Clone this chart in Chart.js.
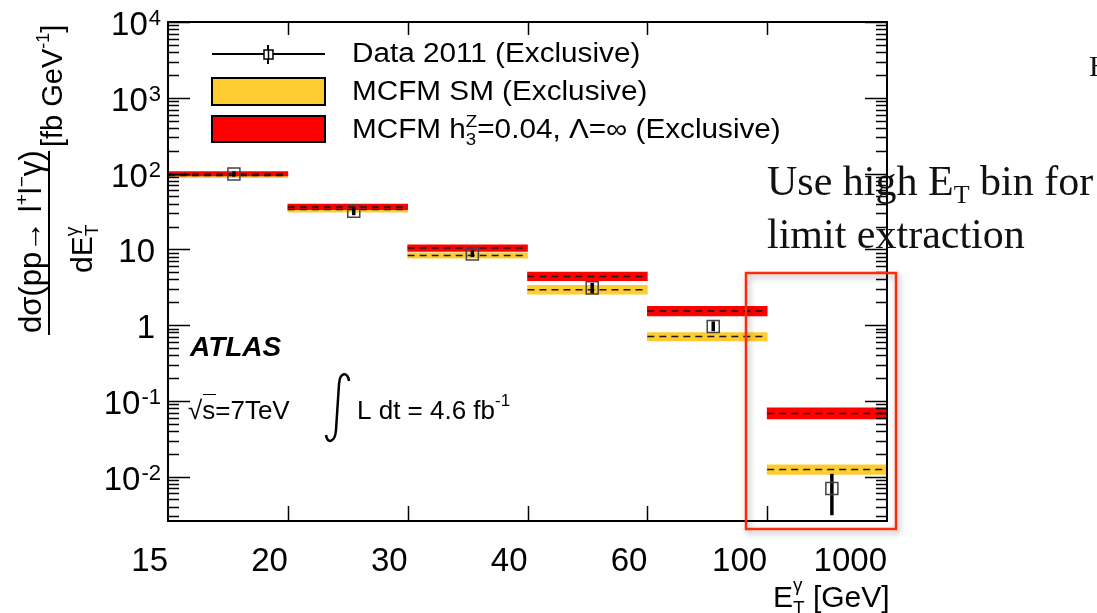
<!DOCTYPE html>
<html>
<head>
<meta charset="utf-8">
<script src="https://cdn.jsdelivr.net/npm/chart.js@4"></script>
<style>
  html, body { margin: 0; padding: 0; background: #fff; }
</style>
</head>
<body>
<canvas id="chart" width="1097" height="613"></canvas>
<script>
'use strict';

/* Data */

var binLabels = ['15-20', '20-30', '30-40', '40-60', '60-100', '100-1000'];
var xTickLabels = ['15', '20', '30', '40', '60', '100', '1000'];

// Data 2011 (Exclusive)
var dataX = [0.55, 1.55, 2.54, 3.54, 4.55, 5.54];
var dataY = [99, 31.8, 8.7, 3.1, 0.96, 0.0070];
var dataLo = [91, 28.2, 7.9, 2.6, 0.83, 0.0031];
var dataHi = [107, 35.9, 9.7, 3.6, 1.12, 0.0109];

// MCFM SM (Exclusive)
var smCentral = [94, 33.5, 8.3, 2.93, 0.71, 0.0124];
var smLow = [88, 31.0, 7.65, 2.57, 0.62, 0.0107];
var smHigh = [100, 36.1, 9.0, 3.34, 0.80, 0.0143];

// MCFM h3Z = 0.04 (Exclusive)
var h3Central = [99, 36.3, 10.4, 4.39, 1.53, 0.0684];
var h3Low = [93, 33.3, 9.4, 3.85, 1.32, 0.058];
var h3High = [106, 39.5, 11.5, 5.0, 1.77, 0.081];

var yDecades = [1e4, 1e3, 1e2, 10, 1, 0.1, 0.01];
var yTickBase = ['10', '10', '10', '10', '1', '10', '10'];
var yTickExp = ['4', '3', '2', '', '', '-1', '-2'];

var SANS = '"Liberation Sans", Arial, Helvetica, sans-serif';
var SERIF = '"Liberation Serif", "Times New Roman", serif';

/* Helpers */

// draws a list of runs left to right, each {t, size, dy, style, keep}
function drawRuns(ctx, x, y, runs) {
  var cx = x, hold = 0;
  runs.forEach(function(r) {
    ctx.font = (r.style || '') + ' ' + r.size + 'px ' + (r.family || SANS);
    ctx.fillText(r.t, cx, y + (r.dy || 0));
    var w = ctx.measureText(r.t).width;
    if (r.keep) {
      hold = Math.max(hold, w);
    } else {
      cx += Math.max(w, hold);
      hold = 0;
    }
  });
  return cx;
}

/* Plugins */

var frameTicks = {
  id: 'frameTicks',
  afterDatasetsDraw: function(chart) {
    var ctx = chart.ctx, a = chart.chartArea;
    var ys = chart.scales.y, xs = chart.scales.x;
    ctx.save();
    ctx.strokeStyle = '#000';
    ctx.lineWidth = 1.5;
    ctx.beginPath();
    for (var e = -3; e <= 4; e++) {
      for (var m = 1; m <= 9; m++) {
        var v = m * Math.pow(10, e);
        if (v < ys.min || v > ys.max * 1.0001) continue;
        var py = Math.round(ys.getPixelForValue(v)) + 0.5;
        var len = m === 1 ? 22 : 11;
        ctx.moveTo(a.left, py); ctx.lineTo(a.left + len, py);
        ctx.moveTo(a.right - len, py); ctx.lineTo(a.right, py);
      }
    }
    for (var i = 1; i < xTickLabels.length - 1; i++) {
      var px = Math.round(xs.getPixelForValue(i)) + 0.5;
      ctx.moveTo(px, a.bottom); ctx.lineTo(px, a.bottom - 15);
      ctx.moveTo(px, a.top); ctx.lineTo(px, a.top + 13);
    }
    ctx.stroke();
    ctx.lineWidth = 2;
    ctx.strokeRect(a.left, a.top, a.right - a.left, a.bottom - a.top);
    ctx.restore();
  }
};

var annotations = {
  id: 'annotations',
  afterDraw: function(chart) {
    var ctx = chart.ctx, ys = chart.scales.y;
    ctx.save();
    ctx.fillStyle = '#000';
    ctx.strokeStyle = '#000';
    ctx.textBaseline = 'alphabetic';
    ctx.textAlign = 'left';

    // y tick labels with exponents
    yDecades.forEach(function(v, i) {
      var ym = ys.getPixelForValue(v) + 4;
      var right = 161;
      ctx.font = '22px ' + SANS;
      var ew = yTickExp[i] ? ctx.measureText(yTickExp[i]).width : 0;
      if (yTickExp[i]) ctx.fillText(yTickExp[i], right - ew, ym - 1);
      ctx.font = '33px ' + SANS;
      var bw = ctx.measureText(yTickBase[i]).width;
      ctx.textBaseline = 'middle';
      ctx.fillText(yTickBase[i], right - ew - bw - (ew ? 1 : 6), ym);
      ctx.textBaseline = 'alphabetic';
    });

    // y axis title (rotated fraction)
    ctx.save();
    ctx.translate(0, 335);
    ctx.rotate(-Math.PI / 2);
    drawRuns(ctx, 2, 41, [
      {t: 'd\u03c3(pp\u2192 l', size: 31},
      {t: '+', size: 19, dy: -13},
      {t: 'l', size: 31},
      {t: '\u2212', size: 19, dy: -13},
      {t: '\u03b3)', size: 31}
    ]);
    ctx.lineWidth = 2;
    ctx.beginPath(); ctx.moveTo(0, 49); ctx.lineTo(184, 49); ctx.stroke();
    drawRuns(ctx, 62, 92, [
      {t: 'dE', size: 30},
      {t: '\u03b3', size: 19, dy: -14, keep: true},
      {t: 'T', size: 19, dy: 6}
    ]);
    drawRuns(ctx, 188, 62, [
      {t: '[fb GeV', size: 29},
      {t: '-1', size: 18, dy: -13},
      {t: ']', size: 29}
    ]);
    ctx.restore();

    // x axis title
    var xt = drawRuns(ctx, 773, 607, [
      {t: 'E', size: 30},
      {t: '\u03b3', size: 19, dy: -16, keep: true},
      {t: 'T', size: 19, dy: 7}
    ]);
    ctx.font = '30px ' + SANS;
    ctx.fillText(' [GeV]', xt, 607);

    // legend
    ctx.lineWidth = 2;
    ctx.beginPath(); ctx.moveTo(212, 54); ctx.lineTo(325, 54); ctx.stroke();
    ctx.beginPath(); ctx.moveTo(268, 45); ctx.lineTo(268, 64); ctx.stroke();
    ctx.lineWidth = 1.5;
    ctx.fillStyle = '#fff';
    ctx.fillRect(264, 50, 9, 9);
    ctx.strokeRect(264, 50, 9, 9);
    ctx.beginPath(); ctx.moveTo(268.5, 50); ctx.lineTo(268.5, 59); ctx.stroke();
    ctx.lineWidth = 2;
    ctx.fillStyle = '#fecb31';
    ctx.fillRect(212, 78, 113, 27);
    ctx.strokeRect(212, 78, 113, 27);
    ctx.fillStyle = '#fe0000';
    ctx.fillRect(212, 116, 113, 26);
    ctx.strokeRect(212, 116, 113, 26);
    ctx.fillStyle = '#000';
    var legRows = [
      [{t: 'Data 2011 (Exclusive)', size: 27}],
      [{t: 'MCFM SM (Exclusive)', size: 27}],
      [{t: 'MCFM h', size: 27},
       {t: 'Z', size: 17, dy: -11, keep: true},
       {t: '3', size: 17, dy: 7},
       {t: '=0.04, \u039b=\u221e (Exclusive)', size: 27}]
    ];
    var legBase = [62, 100, 138];
    legRows.forEach(function(runs, i) {
      ctx.save();
      ctx.translate(352, legBase[i]);
      ctx.scale(1.1, 1);
      drawRuns(ctx, 0, 0, runs);
      ctx.restore();
    });

    // ATLAS label
    ctx.font = 'italic bold 28px ' + SANS;
    ctx.fillText('ATLAS', 190, 356);
    ctx.font = '26px ' + SANS;
    ctx.fillText('\u221as=7TeV', 188, 419);
    ctx.lineWidth = 1;
    ctx.beginPath(); ctx.moveTo(203, 394.5); ctx.lineTo(216, 394.5); ctx.stroke();

    // integral sign
    ctx.lineWidth = 2.5;
    ctx.beginPath();
    ctx.moveTo(349, 381);
    ctx.bezierCurveTo(348, 372, 340, 371, 339, 384);
    ctx.lineTo(336, 430);
    ctx.bezierCurveTo(335, 443, 327, 444, 326, 435);
    ctx.stroke();
    drawRuns(ctx, 357, 419, [
      {t: 'L dt = 4.6 fb', size: 26},
      {t: '-1', size: 17, dy: -13}
    ]);

    // slide annotation
    ctx.fillStyle = '#111';
    drawRuns(ctx, 767, 195, [
      {t: 'Use high E', size: 42, family: SERIF},
      {t: 'T', size: 26, dy: 8, family: SERIF},
      {t: ' bin for', size: 42, family: SERIF}
    ]);
    ctx.font = '42px ' + SERIF;
    ctx.fillText('limit extraction', 767, 248);
    ctx.font = '30px ' + SERIF;
    ctx.fillText('H', 1089, 76);

    // highlight box
    ctx.shadowColor = 'rgba(0,0,0,0.35)';
    ctx.shadowBlur = 6;
    ctx.shadowOffsetX = 2;
    ctx.shadowOffsetY = 3;
    ctx.strokeStyle = '#fb2c0c';
    ctx.lineWidth = 2.5;
    ctx.strokeRect(746, 273, 150, 256);
    ctx.restore();
  }
};

/* Datasets */

function dashedLines(values, color) {
  return values.map(function(v, i) {
    return {
      type: 'line',
      xAxisID: 'x',
      data: [{x: i, y: v}, {x: i + 1, y: v}],
      borderColor: color,
      borderWidth: 1.5,
      borderDash: [7, 5],
      pointRadius: 0,
      order: 2
    };
  });
}

function band(lo, hi, color, order) {
  return {
    type: 'bar',
    xAxisID: 'xb',
    data: lo.map(function(v, i) { return [v, hi[i]]; }),
    backgroundColor: color,
    borderWidth: 0,
    borderSkipped: false,
    barPercentage: 1,
    categoryPercentage: 1,
    grouped: false,
    order: order
  };
}

var errorBars = dataX.map(function(x, i) {
  return {
    type: 'line',
    xAxisID: 'x',
    data: [{x: x, y: dataLo[i]}, {x: x, y: dataHi[i]}],
    borderColor: '#000',
    borderWidth: 3.5,
    pointRadius: 0,
    order: 1
  };
});

var datasets = [
  {
    type: 'scatter',
    label: 'Data 2011 (Exclusive)',
    xAxisID: 'x',
    data: dataX.map(function(x, i) { return {x: x, y: dataY[i]}; }),
    pointStyle: 'rect',
    pointRadius: 8.5,
    borderColor: '#444',
    borderWidth: 1.5,
    backgroundColor: 'rgba(0,0,0,0)',
    order: 0
  }
].concat(errorBars)
 .concat(dashedLines(h3Central, '#1a1a1a'))
 .concat(dashedLines(smCentral, '#1a1a1a'))
 .concat([band(h3Low, h3High, '#fe0000', 3), band(smLow, smHigh, '#fecb31', 4)]);

var ctx = document.getElementById('chart').getContext('2d');
var myChart = new Chart(ctx, {
  type: 'bar',
  data: { labels: binLabels, datasets: datasets },
  options: {
    responsive: false,
    animation: false,
    layout: { padding: { left: 168, right: 210, top: 22, bottom: 0 } },
    plugins: { legend: { display: false }, tooltip: { enabled: false } },
    scales: {
      x: {
        type: 'linear',
        position: 'bottom',
        offset: false,
        min: 0,
        max: 6,
        grid: { display: false, offset: false },
        border: { display: false },
        afterBuildTicks: function(s) {
          s.ticks = xTickLabels.map(function(_, i) { return {value: i}; });
        },
        afterFit: function(s) { s.height = 92; },
        ticks: {
          autoSkip: false,
          maxRotation: 0,
          align: 'end',
          padding: 13,
          color: '#000',
          font: { family: SANS, size: 33 },
          callback: function(v) { return xTickLabels[v]; }
        }
      },
      xb: {
        type: 'category',
        labels: binLabels,
        offset: true,
        display: false
      },
      y: {
        type: 'logarithmic',
        min: 0.0026,
        max: 10000,
        display: false
      }
    }
  },
  plugins: [frameTicks, annotations]
});
</script>
</body>
</html>
